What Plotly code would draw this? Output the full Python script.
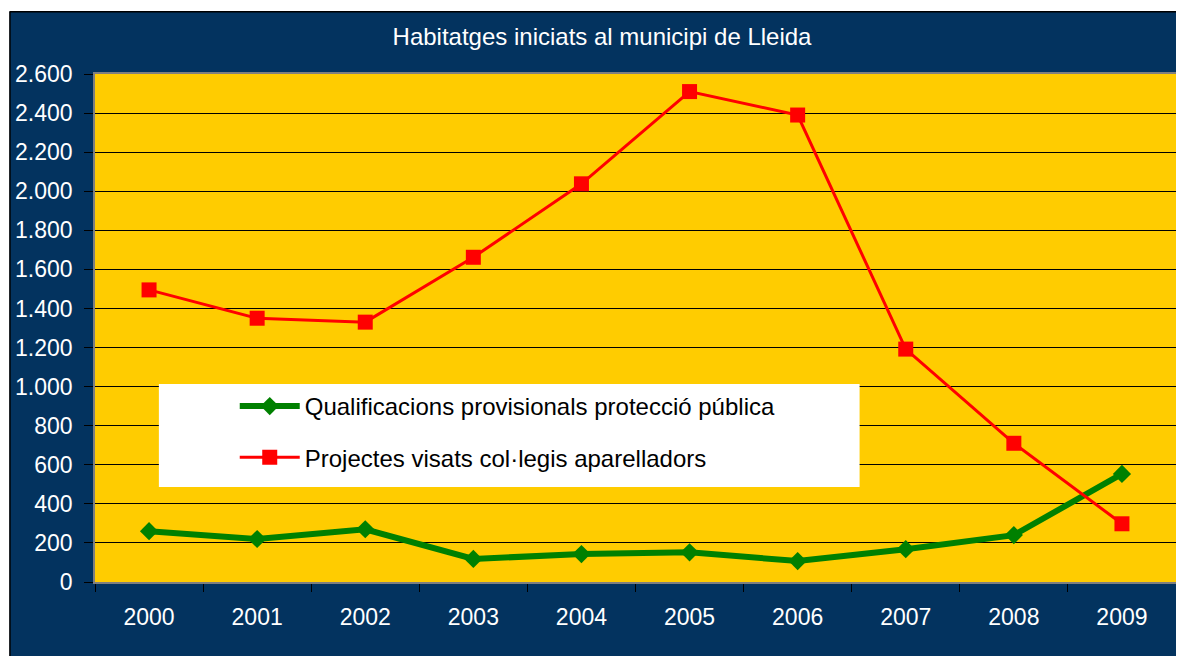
import plotly.graph_objects as go

years = ["2000", "2001", "2002", "2003", "2004", "2005", "2006", "2007", "2008", "2009"]
qualificacions = [260, 220, 270, 118, 143, 152, 107, 168, 240, 553]
projectes = [1495, 1350, 1330, 1662, 2038, 2510, 2390, 1192, 710, 298]
y_ticks = list(range(0, 2601, 200))

# page body has an 8px margin; figure sized so the page matches 1184x656
OFF = 8
W, H = 1184 - OFF, 656 - OFF
L, T = 95 - OFF, 74 - OFF
R, B = 6, 74
PW, PH = W - L - R, H - T - B

def px(x):
    return (x - OFF - L) / PW

def py(y):
    return (H - B - (y - OFF)) / PH

NAVY = "#03335F"
YELLOW = "#FFCC00"
FONT = "Liberation Sans, Arial, sans-serif"

fig = go.Figure()
fig.add_trace(go.Scatter(
    x=years, y=qualificacions, mode="lines+markers",
    name="Qualificacions provisionals protecció pública",
    line=dict(color="#008000", width=6),
    marker=dict(symbol="diamond", size=14, color="#008000"),
    legendgroup="a",
))
fig.add_trace(go.Scatter(
    x=years, y=projectes, mode="lines+markers",
    name="Projectes visats col·legis aparelladors",
    line=dict(color="#FF0000", width=3),
    marker=dict(symbol="square", size=15, color="#FF0000"),
    legendgroup="b",
))

shapes = [
    dict(type="rect", xref="paper", yref="paper", x0=px(0), x1=px(9.5), y0=py(H + 20), y1=py(0),
         fillcolor="white", line=dict(width=0), layer="below"),
    dict(type="rect", xref="paper", yref="paper", x0=px(0), x1=px(1200), y0=py(11.5), y1=py(0),
         fillcolor="white", line=dict(width=0), layer="below"),
    dict(type="line", xref="paper", yref="paper", x0=px(9.5), x1=px(1200), y0=py(11.8), y1=py(11.8),
         line=dict(color="black", width=1.5), layer="below"),
    dict(type="line", xref="paper", yref="paper", x0=px(9.8), x1=px(9.8), y0=py(11.5), y1=py(700),
         line=dict(color="black", width=1.5), layer="below"),
    dict(type="rect", xref="paper", yref="paper", x0=px(159), x1=px(861), y0=py(487), y1=py(384),
         fillcolor="white", line=dict(width=0), layer="above"),
]

fig.update_layout(
    width=W, height=H,
    margin=dict(l=L, r=R, t=T, b=B, pad=0),
    paper_bgcolor=NAVY,
    plot_bgcolor=YELLOW,
    separators=",.",
    font=dict(family=FONT, color="white", size=23),
    title=dict(text="Habitatges iniciats al municipi de Lleida", x=(602 - OFF) / W, xref="container",
               xanchor="center", y=1 - (37 - OFF) / H, yref="container", yanchor="middle",
               font=dict(family=FONT, size=24, color="white")),
    showlegend=True,
    legend=dict(x=px(235), y=py(384), xanchor="left", yanchor="top",
                bgcolor="rgba(0,0,0,0)", borderwidth=0,
                font=dict(family=FONT, size=24, color="black"),
                traceorder="grouped", tracegroupgap=17, itemwidth=60),
    shapes=shapes,
    xaxis=dict(type="category", range=[-0.5, 9.5], tickson="boundaries",
               ticks="outside", ticklen=8, tickcolor="black", tickwidth=1,
               showgrid=False, showline=True, linecolor="#7F7F7F", linewidth=1.5, mirror=True,
               tickfont=dict(family=FONT, size=23, color="white"), ticklabelstandoff=14,
               fixedrange=True),
    yaxis=dict(range=[0, 2600], tickvals=y_ticks, tickformat=",d",
               ticks="outside", ticklen=9, tickcolor="black", tickwidth=1,
               showgrid=True, gridcolor="black", gridwidth=1, zeroline=False,
               showline=True, linecolor="#7F7F7F", linewidth=1.5, mirror=True,
               tickfont=dict(family=FONT, size=23, color="white"), ticklabelstandoff=7,
               fixedrange=True),
)

fig.write_html("out.html")
